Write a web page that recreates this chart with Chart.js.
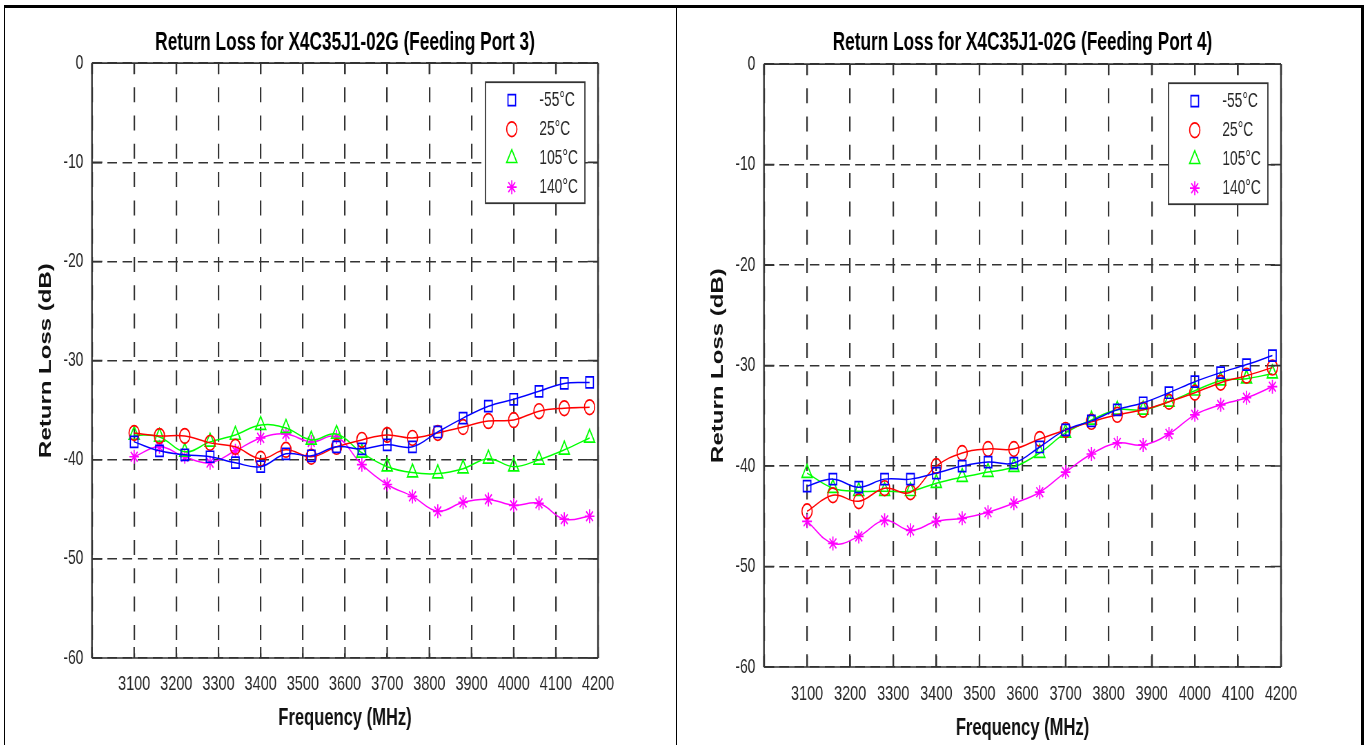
<!DOCTYPE html>
<html>
<head>
<meta charset="utf-8">
<title>Return Loss for X4C35J1-02G</title>
<script src="https://cdn.jsdelivr.net/npm/chart.js@4.4.1/dist/chart.umd.min.js"></script>
<style>
	html, body { margin: 0; padding: 0; background: #fff; overflow: hidden; }
	body { width: 1366px; height: 745px; position: relative; }
	.frame { position: absolute; background: #000; }
	/* the source figure is squeezed horizontally, so the charts are too */
	.box { position: absolute; top: 10px; height: 735px; transform-origin: 0 0; transform: scaleX(0.69); }
	#box3 { left: 8px; width: 965px; }
	#box4 { left: 680px; width: 982px; }
</style>
</head>
<body>
<div class="frame" style="left:4px;top:5px;width:1360px;height:3px"></div>
<div class="frame" style="left:4px;top:5px;width:1px;height:740px"></div>
<div class="frame" style="left:676px;top:5px;width:1px;height:740px"></div>
<div class="frame" style="left:1361px;top:5px;width:3px;height:740px"></div>
<div class="box" id="box3"><canvas id="port3"></canvas></div>
<div class="box" id="box4"><canvas id="port4"></canvas></div>

<script>
const freqs = [3100, 3160, 3220, 3280, 3340, 3400, 3460, 3520, 3580, 3640, 3700, 3760, 3820, 3880, 3940, 4000, 4060, 4120, 4180];
const tempLabels = ['-55°C', '25°C', '105°C', '140°C'];
const xTickLabels = [3100, 3200, 3300, 3400, 3500, 3600, 3700, 3800, 3900, 4000, 4100, 4200];
const yTickLabels = [0, -10, -20, -30, -40, -50, -60];

// Feeding Port 3
const port3M55 = [-38.2, -39.1, -39.5, -39.7, -40.3, -40.7, -39.4, -39.6, -38.7, -38.9, -38.5, -38.7, -37.2, -35.8, -34.6, -33.9, -33.1, -32.3, -32.2];
const port3P25 = [-37.3, -37.6, -37.6, -38.3, -38.7, -39.9, -39.0, -39.7, -38.7, -38.0, -37.5, -37.8, -37.3, -36.7, -36.1, -36.0, -35.1, -34.8, -34.7];
const port3P105 = [-37.5, -37.7, -39.2, -38.2, -37.5, -36.5, -36.8, -38.0, -37.4, -39.3, -40.7, -41.3, -41.4, -40.9, -39.9, -40.7, -40.0, -39.0, -37.8];
const port3P140 = [-39.7, -38.7, -39.7, -40.3, -39.1, -37.8, -37.4, -38.2, -37.7, -40.5, -42.5, -43.7, -45.2, -44.3, -44.0, -44.6, -44.4, -46.0, -45.7];

// Feeding Port 4
const port4M55 = [-42.0, -41.3, -42.1, -41.3, -41.3, -40.7, -40.0, -39.6, -39.7, -38.1, -36.4, -35.5, -34.4, -33.7, -32.7, -31.6, -30.7, -29.9, -29.0];
const port4P25 = [-44.5, -42.9, -43.5, -42.2, -42.6, -40.0, -38.7, -38.3, -38.3, -37.3, -36.4, -35.6, -34.9, -34.4, -33.6, -32.7, -31.7, -31.0, -30.2];
const port4P105 = [-40.7, -42.2, -42.5, -42.5, -42.5, -41.7, -41.1, -40.6, -40.1, -38.7, -36.7, -35.4, -34.4, -34.4, -33.6, -32.5, -31.5, -31.3, -30.8];
const port4P140 = [-45.5, -47.7, -47.0, -45.4, -46.4, -45.5, -45.2, -44.6, -43.7, -42.6, -40.6, -38.8, -37.7, -37.9, -36.8, -34.9, -33.9, -33.2, -32.1];

const colors = ['#0000ff', '#ff0000', '#00ff00', '#ff00ff'];
const markers = ['rect', 'circle', 'triangle', 'star'];
const markerSizes = [7.8, 7.4, 8.6, 7];

Chart.defaults.font.family = '"Liberation Sans", Arial, sans-serif';
Chart.defaults.color = '#262626';

const buildSeries = (values, i) => ({
	label: tempLabels[i],
	data: values.map((v, k) => ({ x: freqs[k], y: v })),
	borderColor: colors[i],
	borderWidth: 1.5,
	tension: 0.4,
	pointStyle: markers[i],
	pointRadius: markerSizes[i],
	pointBorderColor: colors[i],
	pointBackgroundColor: 'rgba(0,0,0,0)',
	pointBorderWidth: 1.7,
});

// box, inward ticks and legend drawn the matlab way
const matlabBox = {
	id: 'matlabBox',
	afterDatasetsDraw(chart) {
		const { ctx, chartArea: a, scales } = chart;
		ctx.save();
		ctx.strokeStyle = '#333';
		ctx.setLineDash([]);

		ctx.lineWidth = 2.2;
		scales.x.ticks.forEach((t) => {
			const px = scales.x.getPixelForValue(t.value);
			ctx.beginPath();
			ctx.moveTo(px, a.bottom);
			ctx.lineTo(px, a.bottom - 11);
			ctx.moveTo(px, a.top);
			ctx.lineTo(px, a.top + 11);
			ctx.stroke();
		});
		ctx.lineWidth = 1.6;
		scales.y.ticks.forEach((t) => {
			const py = scales.y.getPixelForValue(t.value);
			ctx.beginPath();
			ctx.moveTo(a.left, py);
			ctx.lineTo(a.left + 15, py);
			ctx.moveTo(a.right, py);
			ctx.lineTo(a.right - 15, py);
			ctx.stroke();
		});

		// legend
		const lw = 144, lh = 121;
		const lx = a.right - 19 - lw, ly = a.top + 19;
		ctx.fillStyle = '#fff';
		ctx.fillRect(lx, ly, lw, lh);
		ctx.lineWidth = 1.8;
		ctx.strokeRect(lx, ly, lw, lh);
		chart.data.datasets.forEach((ds, i) => {
			const y = ly + 18 + i * 29;
			ctx.strokeStyle = ds.borderColor;
			ctx.fillStyle = 'rgba(0,0,0,0)';
			ctx.lineWidth = 1.7;
			Chart.helpers.drawPoint(ctx, { pointStyle: ds.pointStyle, radius: ds.pointRadius, rotation: 0, borderWidth: 1.7 }, lx + 38, y);
			ctx.fillStyle = '#262626';
			ctx.font = '20px "Liberation Sans", Arial, sans-serif';
			ctx.textAlign = 'left';
			ctx.textBaseline = 'middle';
			ctx.fillText(ds.label, lx + 78, y);
		});

		// axes box
		ctx.strokeStyle = '#333';
		ctx.lineWidth = 1.7;
		ctx.beginPath();
		ctx.moveTo(a.left, a.top);
		ctx.lineTo(a.right, a.top);
		ctx.moveTo(a.left, a.bottom);
		ctx.lineTo(a.right, a.bottom);
		ctx.stroke();
		ctx.lineWidth = 2.4;
		ctx.beginPath();
		ctx.moveTo(a.left, a.top);
		ctx.lineTo(a.left, a.bottom);
		ctx.moveTo(a.right, a.top);
		ctx.lineTo(a.right, a.bottom);
		ctx.stroke();
		ctx.restore();
	},
};

const drawReturnLoss = (canvasId, title, series, geo) => {
	const config = {
		type: 'line',
		data: { datasets: series.map(buildSeries) },
		options: {
			responsive: true,
			maintainAspectRatio: false,
			animation: false,
			layout: { padding: { left: 0, right: geo.rightPad, top: 0, bottom: 0 } },
			plugins: {
				legend: { display: false },
				tooltip: { enabled: false },
				title: {
					display: true,
					text: title,
					fullSize: false,
					color: '#000',
					font: { size: 25, weight: 'bold' },
					padding: { top: 18, bottom: geo.titleBottom },
				},
			},
			scales: {
				x: {
					type: 'linear',
					min: 3000,
					max: 4200,
					afterFit: (s) => { s.height = geo.xHeight; },
					ticks: {
						stepSize: 100,
						autoSkip: false,
						maxRotation: 0,
						padding: geo.xTickPad,
						font: { size: 21 },
						callback: (v) => (xTickLabels.includes(v) ? String(v) : ''),
					},
					grid: { color: '#333', lineWidth: 2.2, drawTicks: false },
					border: { display: false, dash: [15, 13.3], dashOffset: 4.3 },
					title: {
						display: true,
						text: 'Frequency (MHz)',
						color: '#111',
						font: { size: 24, weight: 'bold' },
						padding: { top: 0, bottom: geo.xTitlePad },
					},
				},
				y: {
					min: -60,
					max: 0,
					afterFit: (s) => { s.width = 121.7; },
					ticks: {
						stepSize: 10,
						padding: 12.5,
						font: { size: 20 },
						callback: (v) => (yTickLabels.includes(v) ? String(v) : ''),
					},
					grid: { color: '#333', lineWidth: 1.6, drawTicks: false },
					border: { display: false, dash: [14, 8] },
					title: {
						display: true,
						text: 'Return Loss (dB)',
						color: '#111',
						font: { size: 24, weight: 'bold' },
						padding: { top: 40.7, bottom: 0 },
					},
				},
			},
		},
		plugins: [matlabBox],
	};
	new Chart(document.getElementById(canvasId), config);
};

drawReturnLoss('port3', 'Return Loss for X4C35J1-02G (Feeding Port 3)',
	[port3M55, port3P25, port3P105, port3P140],
	{ rightPad: 109.9, titleBottom: 5.2, xHeight: 87, xTickPad: 13.4, xTitlePad: 12.6 });

drawReturnLoss('port4', 'Return Loss for X4C35J1-02G (Feeding Port 4)',
	[port4M55, port4P25, port4P105, port4P140],
	{ rightPad: 111, titleBottom: 6.2, xHeight: 78, xTickPad: 14.4, xTitlePad: 2.6 });
</script>
</body>
</html>
